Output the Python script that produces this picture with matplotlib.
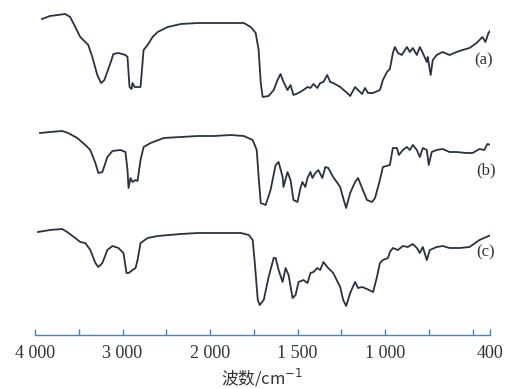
"""IR spectra of three samples, (a)-(c), stacked with offsets."""

import matplotlib
matplotlib.use("Agg")
import matplotlib.pyplot as plt

# wavenumber (cm-1) and relative transmittance (a.u.)
wn_a = [3920, 3828, 3655, 3598, 3540, 3483, 3425, 3391, 3345, 3288, 3245, 3207,
        3138, 3104, 3046, 2966, 2943, 2920, 2897, 2885, 2862, 2794, 2759, 2713,
        2656, 2598, 2483, 2334, 2139, 1977, 1881, 1807, 1767, 1739, 1722, 1710,
        1699, 1665, 1636, 1614, 1597, 1580, 1557, 1540, 1523, 1494, 1466, 1443,
        1426, 1409, 1387, 1370, 1352, 1330, 1313, 1296, 1256, 1216, 1199, 1171,
        1154, 1131, 1114, 1097, 1068, 1029, 1012, 989, 972, 955, 944, 926, 904,
        875, 858, 841, 818, 801, 784, 761, 756, 739, 727, 705, 671, 631, 591,
        557, 517, 477, 443, 426, 409, 395]
t_a = [81, 84, 86, 83, 73, 63, 58, 55, 43, 25, 17, 20,
       37, 46, 47, 45, 43, 13, 11, 17, 13, 13, 50, 55,
       63, 68, 73, 76, 77, 77, 77, 77, 73, 67, 50, 17,
       3, 4, 10, 20, 26, 18, 10, 15, 5, 7, 10, 13,
       12, 16, 12, 17, 18, 25, 18, 17, 13, 7, 4, 13,
       10, 6, 12, 7, 7, 10, 20, 28, 31, 47, 53, 47, 45,
       53, 48, 52, 45, 53, 47, 38, 43, 25, 40, 45, 48, 45, 48,
       50, 52, 57, 63, 58, 67, 70]

wn_b = [3943, 3828, 3690, 3621, 3517, 3425, 3368, 3310, 3276, 3230, 3173, 3115,
        3023, 2966, 2943, 2931, 2908, 2885, 2851, 2828, 2794, 2759, 2679, 2529,
        2334, 2139, 1977, 1881, 1807, 1756, 1733, 1722, 1710, 1682, 1654, 1625,
        1608, 1585, 1580, 1557, 1540, 1523, 1500, 1483, 1472, 1455, 1443, 1426,
        1415, 1398, 1381, 1358, 1341, 1324, 1296, 1256, 1239, 1222, 1199, 1171,
        1154, 1131, 1103, 1074, 1057, 1029, 1012, 972, 955, 932, 921, 898, 875,
        858, 841, 818, 801, 784, 761, 750, 733, 705, 671, 631, 591, 535, 500,
        460, 432, 415, 395]
t_b = [77, 78, 79, 77, 72, 65, 60, 47, 37, 38, 53, 59,
       60, 58, 40, 22, 32, 28, 30, 29, 50, 63, 67, 72,
       73, 74, 74, 75, 74, 70, 60, 33, 7, 5, 20, 45,
       48, 33, 23, 38, 30, 10, 8, 22, 28, 23, 32, 38,
       32, 37, 40, 32, 43, 42, 33, 23, 12, 2, 17, 28,
       32, 22, 10, 8, 12, 30, 43, 45, 62, 62, 55, 60, 63,
       60, 65, 60, 53, 62, 60, 45, 58, 60, 61, 58, 58, 57, 57,
       61, 60, 66, 65]

wn_c = [3966, 3828, 3690, 3632, 3540, 3483, 3425, 3368, 3310, 3276, 3230, 3173,
        3115, 3046, 2989, 2954, 2931, 2885, 2851, 2828, 2794, 2713, 2598, 2334,
        2139, 1920, 1824, 1778, 1756, 1744, 1727, 1716, 1693, 1665, 1636, 1625,
        1608, 1585, 1568, 1551, 1528, 1511, 1494, 1466, 1443, 1426, 1409, 1387,
        1370, 1352, 1330, 1296, 1256, 1239, 1222, 1199, 1171, 1154, 1131, 1103,
        1068, 1046, 1029, 1012, 983, 972, 955, 926, 898, 870, 841, 818, 801,
        784, 761, 744, 705, 671, 631, 574, 517, 460, 421, 395]
t_c = [78, 80, 81, 78, 72, 68, 67, 60, 47, 43, 47, 60,
       64, 62, 57, 37, 37, 40, 42, 50, 67, 72, 74, 76,
       77, 77, 77, 75, 70, 47, 10, 5, 10, 33, 52, 52,
       40, 28, 42, 35, 12, 15, 28, 30, 27, 37, 38, 42,
       40, 48, 43, 37, 23, 10, 4, 17, 28, 22, 23, 21,
       18, 33, 47, 50, 52, 58, 62, 60, 64, 63, 66, 62, 57,
       63, 50, 60, 63, 64, 62, 62, 63, 70, 73, 75]

spectra = [("(a)", wn_a, t_a), ("(b)", wn_b, t_b), ("(c)", wn_c, t_c)]
offsets = [230, 120, 20]

major = [4000, 3000, 2000, 1500, 1000, 400]
major_labels = ["4 000", "3 000", "2 000", "1 500", "1 000", "400"]
minor = [3500, 2500, 1750, 1250, 750, 500]


def fwd(w):
    # IR convention: half the scale above 2000 cm-1
    return w.clip(max=2000) + (w - 2000).clip(min=0) / 2


def inv(x):
    return x.clip(max=2000) + (x - 2000).clip(min=0) * 2


serif = ["Liberation Serif", "DejaVu Serif"]
line_col = "#2a3142"
axis_col = "#4a80c0"

fig = plt.figure(figsize=(5.08, 3.89), dpi=100)
ax = fig.add_axes([35 / 508, 54 / 389, 455 / 508, 335 / 389])
ax.set_xscale("function", functions=(fwd, inv))

for (name, wn, t), off in zip(spectra, offsets):
    ax.plot(wn, [v + off for v in t], color=line_col, lw=1.3)

ax.text(438, 270, "(a)", fontsize=12, family=serif, color="#333333", ha="center", va="center")
ax.text(421, 160, "(b)", fontsize=12, family=serif, color="#333333", ha="center", va="center")
ax.text(426, 78, "(c)", fontsize=12, family=serif, color="#333333", ha="center", va="center")

ax.set_xlim(4000, 400)
ax.set_ylim(-5, 330)
for s in ["top", "left", "right"]:
    ax.spines[s].set_visible(False)
ax.spines["bottom"].set_color(axis_col)
ax.spines["bottom"].set_linewidth(1.0)
ax.set_yticks([])

ax.set_xticks(major)
ax.set_xticklabels(major_labels, family=serif, fontsize=13, color="#333333")
ax.set_xticks(minor, minor=True)
ax.tick_params(axis="x", which="both", direction="in", length=4, width=1.0,
               color=axis_col, pad=7)

ax.set_xlabel("波数/cm$^{-1}$", family=["Noto Sans CJK SC", "DejaVu Sans"],
              fontsize=12, color="#333333", labelpad=4)

fig.savefig("out.png", dpi=100)
